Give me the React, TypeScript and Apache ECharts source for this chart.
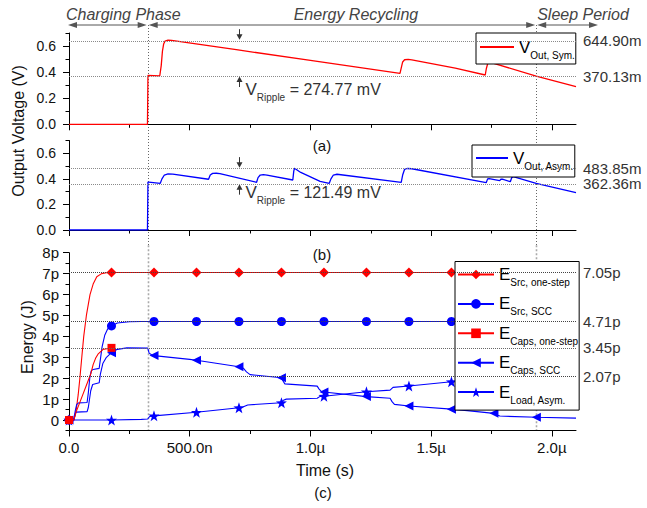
import React, { useEffect, useRef } from 'react';
import * as echarts from 'echarts';

const FONT = '"Liberation Sans", Arial, Helvetica, sans-serif';

// ---------- axes ----------
const xMajor = [0, 0.5, 1.0, 1.5, 2.0];
const xTickLabels = ['0.0', '500.0n', '1.0µ', '1.5µ', '2.0µ'];
const xMinor = [0.25, 0.75, 1.25, 1.75];
const vMajor = [0, 0.2, 0.4, 0.6];
const vMinor = [0.1, 0.3, 0.5, 0.7];
const eMajor = [0, 1, 2, 3, 4, 5, 6, 7, 8];
const eMinor = [-0.5, 0.5, 1.5, 2.5, 3.5, 4.5, 5.5, 6.5, 7.5];

// ---------- phases ----------
const phaseBounds = [0.326, 1.935];
const phaseNames = ['Charging Phase', 'Energy Recycling', 'Sleep Period'];

// ---------- panel (a): V_Out, Sym. (V vs µs) ----------
const symT = [0, 0.325, 0.327, 0.376, 0.382, 0.387, 0.392, 0.398, 0.41, 0.425, 0.7, 1.0, 1.371, 1.376, 1.382, 1.39, 1.405, 1.42, 1.6, 1.724, 1.729, 1.735, 1.742, 1.935, 2.1];
const symV = [0, 0, 0.375, 0.372, 0.45, 0.56, 0.615, 0.638, 0.645, 0.643, 0.57, 0.49, 0.39, 0.43, 0.478, 0.495, 0.498, 0.494, 0.43, 0.378, 0.43, 0.47, 0.477, 0.37, 0.288];
const symRef = [0.6449, 0.37013];

// ---------- panel (b): V_Out, Asym. ----------
const asymT = [0, 0.325, 0.327, 0.33, 0.378, 0.385, 0.395, 0.41, 0.43, 0.578, 0.585, 0.595, 0.61, 0.625, 0.777, 0.783, 0.792, 0.805, 0.82, 0.927, 0.931, 0.934, 0.96, 1.0, 1.04, 1.078, 1.085, 1.095, 1.11, 1.376, 1.382, 1.39, 1.4, 1.42, 1.728, 1.734, 1.74, 1.784, 1.789, 1.795, 1.828, 1.834, 1.84, 1.935, 2.1];
const asymV = [0, 0, 0.375, 0.375, 0.365, 0.4, 0.43, 0.438, 0.437, 0.397, 0.43, 0.443, 0.444, 0.441, 0.373, 0.41, 0.43, 0.433, 0.43, 0.391, 0.46, 0.483, 0.45, 0.415, 0.38, 0.365, 0.4, 0.43, 0.436, 0.373, 0.43, 0.475, 0.481, 0.479, 0.37, 0.4, 0.402, 0.386, 0.397, 0.397, 0.378, 0.41, 0.417, 0.365, 0.292];
const asymRef = [0.48385, 0.36236];

// ---------- panel (c): energies (pJ vs µs) ----------
const markerT = [0, 0.176, 0.352, 0.528, 0.704, 0.88, 1.056, 1.232, 1.408, 1.584, 1.76, 1.936];

const srcOneT = [0, 0.02, 0.03, 0.038, 0.045, 0.053, 0.061, 0.072, 0.087, 0.1, 0.115, 0.135, 0.155, 0.176, 0.352, 0.528, 0.704, 0.88, 1.056, 1.232, 1.408, 1.584, 1.76, 1.936, 2.1];
const srcOneE = [0, 0, 0.5, 1.2, 2.0, 3.0, 4.0, 5.0, 6.0, 6.5, 6.85, 7.0, 7.04, 7.05, 7.05, 7.05, 7.05, 7.05, 7.05, 7.05, 7.05, 7.05, 7.05, 7.05, 7.05];

const srcSccT = [0, 0.02, 0.026, 0.032, 0.04, 0.075, 0.08, 0.086, 0.092, 0.1, 0.125, 0.13, 0.137, 0.148, 0.16, 0.176, 0.2, 0.25, 0.3, 0.352, 0.528, 0.704, 0.88, 1.056, 1.232, 1.408, 1.584, 1.76, 1.936, 2.1];
const srcSccE = [0, 0, 0.45, 0.75, 0.82, 0.84, 1.3, 2.0, 2.35, 2.42, 2.47, 2.9, 3.5, 4.05, 4.35, 4.5, 4.64, 4.7, 4.71, 4.71, 4.71, 4.71, 4.71, 4.71, 4.71, 4.71, 4.71, 4.71, 4.71, 4.71];

const capsOneT = [0, 0.02, 0.03, 0.04, 0.06, 0.08, 0.09, 0.1, 0.11, 0.12, 0.14, 0.176];
const capsOneE = [0, 0, 0.4, 0.7, 1.3, 1.9, 2.2, 2.65, 2.95, 3.15, 3.37, 3.45];

const capsSccT = [0, 0.02, 0.026, 0.03, 0.075, 0.08, 0.09, 0.098, 0.125, 0.13, 0.14, 0.155, 0.176, 0.2, 0.24, 0.326, 0.332, 0.345, 0.352, 0.5, 0.528, 0.704, 0.722, 0.735, 0.75, 0.88, 0.886, 0.894, 1.028, 1.036, 1.046, 1.056, 1.232, 1.33, 1.338, 1.348, 1.408, 1.584, 1.65, 1.76, 1.772, 1.785, 1.936, 2.1];
const capsSccE = [0, 0, 0.3, 0.38, 0.4, 0.6, 1.4, 1.7, 1.78, 2.2, 2.7, 3.0, 3.22, 3.38, 3.45, 3.44, 3.2, 3.1, 3.08, 2.9, 2.86, 2.55, 2.48, 2.3, 2.17, 2.02, 1.88, 1.73, 1.62, 1.48, 1.36, 1.34, 1.12, 1.04, 0.88, 0.75, 0.67, 0.52, 0.45, 0.32, 0.24, 0.19, 0.13, 0.09];

const loadT = [0, 0.176, 0.3, 0.326, 0.334, 0.352, 0.528, 0.704, 0.72, 0.74, 0.88, 0.888, 0.9, 1.028, 1.04, 1.056, 1.232, 1.33, 1.342, 1.408, 1.584, 1.76, 1.936, 2.1];
const loadE = [0, 0, 0.03, 0.05, 0.17, 0.2, 0.37, 0.59, 0.62, 0.72, 0.83, 0.95, 1.0, 1.04, 1.13, 1.14, 1.35, 1.43, 1.56, 1.63, 1.83, 1.95, 2.03, 2.07];

const energyRef = [7.05, 4.71, 3.45, 2.07];

const legendMain: Record<string, string> = {
  vSym: 'V', vAsym: 'V', eSrcOne: 'E', eSrcScc: 'E', eCapsOne: 'E', eCapsScc: 'E', eLoad: 'E',
};
const legendSub: Record<string, string> = {
  vSym: 'Out, Sym.', vAsym: 'Out, Asym.', eSrcOne: 'Src, one-step', eSrcScc: 'Src, SCC',
  eCapsOne: 'Caps, one-step', eCapsScc: 'Caps, SCC', eLoad: 'Load, Asym.',
};

const RED = '#ff0000';
const BLUE = '#0000ff';
const STAR = 'path://M0,-10 L2.35,-3.24 L9.51,-3.09 L3.8,1.24 L5.88,8.09 L0,4 L-5.88,8.09 L-3.8,1.24 L-9.51,-3.09 L-2.35,-3.24 Z';

const zip = (t: number[], v: number[]) => t.map((x, i) => [x, v[i]]);
const isMarker = (t: number) => markerT.some((m) => Math.abs(m - t) < 1e-9);

const richText = {
  m: { fontSize: 17, lineHeight: 21, color: '#000', fontFamily: FONT, verticalAlign: 'middle' },
  s: { fontSize: 10, lineHeight: 4, color: '#000', fontFamily: FONT, verticalAlign: 'middle', padding: [16, 0, 0, 0] },
};

function mkX(g: number, minor: boolean, labels: boolean) {
  return {
    type: 'value', gridIndex: g, min: 0, max: 2.1, position: 'bottom',
    axisLine: { show: !minor, onZero: false, lineStyle: { color: '#000', width: 1 } },
    axisTick: { show: true, customValues: minor ? xMinor : xMajor, length: minor ? 3.5 : 6, lineStyle: { color: '#000', width: 1 } },
    axisLabel: labels
      ? { show: true, customValues: xMajor, formatter: (v: number) => xTickLabels[xMajor.indexOf(v)] ?? '', margin: 9, fontSize: 15, color: '#111', fontFamily: FONT }
      : { show: false },
    splitLine: { show: false },
  };
}

function mkY(g: number, minor: boolean, min: number, max: number, major: number[], minorV: number[], fmt: (v: number) => string, fs: number, margin: number) {
  return {
    type: 'value', gridIndex: g, min, max, position: 'left',
    axisLine: { show: !minor, onZero: false, lineStyle: { color: '#000', width: 1 } },
    axisTick: { show: true, customValues: minor ? minorV : major, length: minor ? 3.5 : 6, lineStyle: { color: '#000', width: 1 } },
    axisLabel: minor ? { show: false } : { show: true, customValues: major, formatter: fmt, fontSize: fs, color: '#111', margin, fontFamily: FONT },
    splitLine: { show: false },
  };
}

function refLine(vals: number[], fmt: (v: number) => string, color: string) {
  return {
    silent: true, symbol: 'none', animation: false,
    lineStyle: { type: 'dotted', color, width: 1 },
    label: { show: true, position: 'end', distance: 7, color: '#333', fontSize: 15, fontFamily: FONT },
    emphasis: { disabled: true },
    data: vals.map((v) => ({ yAxis: v, label: { formatter: fmt(v) } })),
  };
}

function energySeries(name: string, t: number[], e: number[], color: string, symbol: string, size: number, extra: any = {}) {
  return {
    name, type: 'line', xAxisIndex: 4, yAxisIndex: 4, data: zip(t, e),
    showSymbol: true, symbol, symbolSize: (val: number[]) => (isMarker(val[0]) ? size : 0),
    lineStyle: { color, width: 1.1 }, itemStyle: { color }, silent: true,
    ...extra,
  };
}

function legendBase(names: string[], left: number, top: number, itemWidth: number, padding: number[], hideSymbol: boolean) {
  return {
    data: names, orient: 'vertical', left, top, itemWidth, itemHeight: 12, itemGap: 3.4,
    padding, backgroundColor: '#fff', borderColor: '#000', borderWidth: 1, borderRadius: 0,
    selectedMode: false, align: 'left',
    itemStyle: hideSymbol ? { opacity: 0 } : {},
    formatter: (n: string) => `{m|${legendMain[n]}}{s|${legendSub[n]}}`,
    textStyle: { rich: richText, fontFamily: FONT },
  };
}

function buildOption() {
  return {
    animation: false,
    textStyle: { fontFamily: FONT },
    grid: [
      { left: 69, right: 71, top: 33, height: 91.3, show: false },
      { left: 69, right: 71, top: 140.5, height: 89.5, show: false },
      { left: 69, right: 71, top: 252.7, height: 177.8, show: false },
    ],
    xAxis: [mkX(0, false, false), mkX(0, true, false), mkX(1, false, false), mkX(1, true, false), mkX(2, false, true), mkX(2, true, false)],
    yAxis: [
      mkY(0, false, 0, 0.7, vMajor, vMinor, (v) => v.toFixed(1), 14, 13),
      mkY(0, true, 0, 0.7, vMajor, vMinor, (v) => '', 14, 13),
      mkY(1, false, 0, 0.7, vMajor, vMinor, (v) => v.toFixed(1), 14, 13),
      mkY(1, true, 0, 0.7, vMajor, vMinor, (v) => '', 14, 13),
      mkY(2, false, -0.5, 8, eMajor, eMinor, (v) => (v === 0 ? '0' : `${v}p`), 15, 10),
      mkY(2, true, -0.5, 8, eMajor, eMinor, (v) => '', 15, 10),
    ],
    legend: [
      legendBase(['vSym'], 476, 33, 34, [1, 1, 4, 3], true),
      legendBase(['vAsym'], 472, 145, 32, [0, 1, 6, 3], true),
      legendBase(['eSrcOne', 'eSrcScc', 'eCapsOne', 'eCapsScc', 'eLoad'], 455, 261.5, 36, [0, 1, 5, 2], false),
    ],
    series: [
      {
        name: 'vSym', type: 'line', xAxisIndex: 0, yAxisIndex: 0, data: zip(symT, symV), showSymbol: false, symbol: 'none',
        lineStyle: { color: RED, width: 1.3 }, itemStyle: { color: RED }, silent: true,
        markLine: refLine(symRef, (v) => `${(v * 1000).toFixed(2)}m`, '#8a8a8a'),
      },
      {
        name: 'vAsym', type: 'line', xAxisIndex: 2, yAxisIndex: 2, data: zip(asymT, asymV), showSymbol: false, symbol: 'none',
        lineStyle: { color: BLUE, width: 1.3 }, itemStyle: { color: BLUE }, silent: true,
        markLine: refLine(asymRef, (v) => `${(v * 1000).toFixed(2)}m`, '#8a8a8a'),
      },
      energySeries('eSrcOne', srcOneT, srcOneE, RED, 'diamond', 10, { markLine: refLine([energyRef[0]], (v) => `${v.toFixed(2)}p`, '#444') }),
      energySeries('eSrcScc', srcSccT, srcSccE, BLUE, 'circle', 9, { markLine: refLine([energyRef[1]], (v) => `${v.toFixed(2)}p`, '#444') }),
      energySeries('eCapsOne', capsOneT, capsOneE, RED, 'rect', 8, { z: 4, markLine: refLine([energyRef[2]], (v) => `${v.toFixed(2)}p`, '#666') }),
      energySeries('eCapsScc', capsSccT, capsSccE, BLUE, 'triangle', 9, { symbolRotate: 90 }),
      energySeries('eLoad', loadT, loadE, BLUE, STAR, 11, { markLine: refLine([energyRef[3]], (v) => `${v.toFixed(2)}p`, '#444') }),
    ],
  };
}

export default function App() {
  const ref = useRef<HTMLDivElement>(null);
  useEffect(() => {
    const chart = echarts.init(ref.current!, null, { renderer: 'svg' });
    chart.setOption(buildOption() as any);

    const X = (t: number) => chart.convertToPixel({ xAxisIndex: 0 } as any, t) as unknown as number;
    const Y = (g: number, v: number) => chart.convertToPixel({ yAxisIndex: g * 2 } as any, v) as unknown as number;

    const g: any[] = [];
    const GRAY = '#555';
    const arrowY = 25;
    const yBottom = Y(2, -0.5);
    const midGap = (Y(1, 0) + Y(2, 8)) / 2 + 4;

    // phase divider lines
    phaseBounds.forEach((t) => {
      const x = Math.round(X(t)) + 0.5;
      g.push({ type: 'line', silent: true, shape: { x1: x, y1: arrowY, x2: x, y2: midGap }, style: { stroke: '#666', lineWidth: 1, lineDash: [1, 2] } });
      g.push({ type: 'line', silent: true, shape: { x1: x, y1: midGap, x2: x, y2: yBottom }, style: { stroke: '#aaa', lineWidth: 1.6, lineDash: [2, 2] } });
    });

    // phase arrows
    const x0 = X(0), x1 = X(phaseBounds[0]), x2 = X(phaseBounds[1]);
    const segs = [[x0 - 1, x1 - 1], [x1 + 1, x2 - 1], [x2 + 1, 598]];
    segs.forEach(([a, b]) => {
      g.push({ type: 'line', silent: true, shape: { x1: a + 5, y1: arrowY, x2: b - 5, y2: arrowY }, style: { stroke: GRAY, lineWidth: 1 } });
      g.push({ type: 'polygon', silent: true, shape: { points: [[a, arrowY], [a + 9, arrowY - 3], [a + 9, arrowY + 3]] }, style: { fill: GRAY } });
      g.push({ type: 'polygon', silent: true, shape: { points: [[b, arrowY], [b - 9, arrowY - 3], [b - 9, arrowY + 3]] }, style: { fill: GRAY } });
    });
    const phaseTextStyle = { fill: '#444', fontSize: 16, fontStyle: 'italic', fontFamily: FONT, verticalAlign: 'middle' };
    g.push({ type: 'text', silent: true, x: x0 - 3, y: 14, style: { ...phaseTextStyle, text: phaseNames[0], align: 'left' } });
    g.push({ type: 'text', silent: true, x: (x1 + x2) / 2 + 14, y: 14, style: { ...phaseTextStyle, text: phaseNames[1], align: 'center' } });
    g.push({ type: 'text', silent: true, x: x2 + 1, y: 14, style: { ...phaseTextStyle, text: phaseNames[2], align: 'left' } });

    // ripple arrows and labels
    const xr = Math.round(X(0.705)) + 0.5;
    const ripple = (gi: number, top: number, bot: number, textDy: number) => {
      const yt = Y(gi, top), yb = Y(gi, bot);
      g.push({ type: 'line', silent: true, shape: { x1: xr, y1: yt - 11, x2: xr, y2: yt - 5 }, style: { stroke: '#333', lineWidth: 1 } });
      g.push({ type: 'polygon', silent: true, shape: { points: [[xr, yt - 0.5], [xr - 3, yt - 6], [xr + 3, yt - 6]] }, style: { fill: '#333' } });
      g.push({ type: 'line', silent: true, shape: { x1: xr, y1: yb + 5, x2: xr, y2: yb + 11 }, style: { stroke: '#333', lineWidth: 1 } });
      g.push({ type: 'polygon', silent: true, shape: { points: [[xr, yb + 0.5], [xr - 3, yb + 6], [xr + 3, yb + 6]] }, style: { fill: '#333' } });
      const mv = ((top - bot) * 1000).toFixed(2);
      g.push({
        type: 'text', silent: true, x: xr + 6, y: yb + textDy,
        style: {
          text: `{m|V}{s|Ripple}{t| = ${mv} mV}`, align: 'left', verticalAlign: 'middle',
          rich: {
            m: { fontSize: 17, lineHeight: 21, fill: '#333', fontFamily: FONT, verticalAlign: 'middle' },
            s: { fontSize: 10, lineHeight: 4, fill: '#333', fontFamily: FONT, verticalAlign: 'middle', padding: [16, 0, 0, 0] },
            t: { fontSize: 16, lineHeight: 21, fill: '#333', fontFamily: FONT, verticalAlign: 'middle' },
          },
        },
      });
    };
    ripple(0, symRef[0], symRef[1], 13);
    ripple(1, asymRef[0], asymRef[1], 9);

    // titles and panel labels
    const txt = (text: string, x: number, y: number, size: number, rot = 0) =>
      g.push({ type: 'text', silent: true, x, y, rotation: rot, style: { text, fill: '#111', fontSize: size, fontFamily: FONT, align: 'center', verticalAlign: 'middle' } });
    txt('Output Voltage (V)', 18, 131, 16, Math.PI / 2);
    txt('Energy (J)', 27, 337, 16, Math.PI / 2);
    txt('(a)', 322, 145, 15);
    txt('(b)', 322, 254, 15);
    txt('Time (s)', 325, 470, 16);
    txt('(c)', 323, 492, 15);

    chart.setOption({ graphic: g } as any);
    return () => chart.dispose();
  }, []);
  return <div ref={ref} style={{ position: 'absolute', left: 0, top: 0, width: 647, height: 508, background: '#fff' }} />;
}
